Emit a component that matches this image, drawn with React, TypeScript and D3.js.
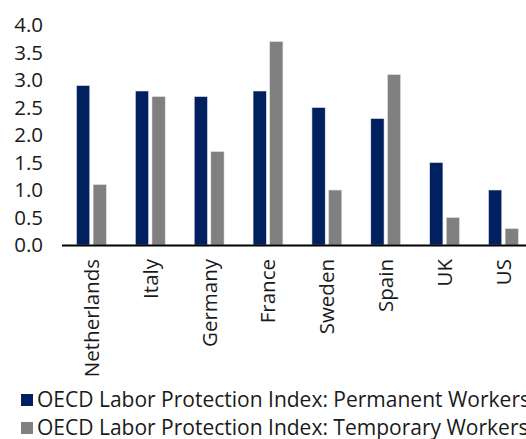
import React from "react";
import * as d3 from "d3";

const categories = ["Netherlands", "Italy", "Germany", "France", "Sweden", "Spain", "UK", "US"];
const permanent = [2.9, 2.8, 2.7, 2.8, 2.5, 2.3, 1.5, 1.0];
const temporary = [1.1, 2.7, 1.7, 3.7, 1.0, 3.1, 0.5, 0.3];
const seriesNames = [
  "OECD Labor Protection Index: Permanent Workers",
  "OECD Labor Protection Index: Temporary Workers",
];
const seriesColors = ["#002060", "#808080"];
const yTicks = [0, 0.5, 1, 1.5, 2, 2.5, 3, 3.5, 4];

const W = 526;
const H = 439;
const FONT = "'Open Sans', sans-serif";

export default function App() {
  const plotLeft = 62;
  const step = 58.86;
  const y = d3.scaleLinear().domain([0, 4]).range([245, 25]);
  const x = d3
    .scaleBand<string>()
    .domain(categories)
    .range([plotLeft, plotLeft + step * categories.length])
    .paddingInner(0)
    .paddingOuter(0);
  const sub = d3
    .scaleBand<string>()
    .domain(["p", "t"])
    .range([0, x.bandwidth()])
    .paddingInner(0.2)
    .paddingOuter(0.873);
  const values = [permanent, temporary];
  const keys = ["p", "t"];

  return (
    <svg
      width={W}
      height={H}
      style={{ position: "fixed", left: 0, top: 0, display: "block", background: "#fff" }}
      fontFamily={FONT}
    >
      {yTicks.map((t) => (
        <text
          key={t}
          x={43}
          y={y(t)}
          dy="0.36em"
          textAnchor="end"
          fontSize={20.5}
          fill="#1a1a1a"
        >
          {d3.format(".1f")(t)}
        </text>
      ))}
      {categories.map((c, i) =>
        values.map((vals, s) => (
          <rect
            key={c + s}
            x={(x(c) as number) + (sub(keys[s]) as number)}
            y={y(vals[i])}
            width={sub.bandwidth()}
            height={y(0) - y(vals[i])}
            fill={seriesColors[s]}
            stroke="#e8e8e8"
            strokeWidth={0.6}
          />
        ))
      )}
      <line x1={plotLeft} x2={W} y1={245.5} y2={245.5} stroke="#000" strokeWidth={2} />
      {categories.map((c) => {
        const cx = (x(c) as number) + x.bandwidth() / 2;
        return (
          <text
            key={c}
            transform={`translate(${cx},259) rotate(-90)`}
            textAnchor="end"
            dy="0.36em"
            fontSize={20.5}
            fill="#1a1a1a"
          >
            {c}
          </text>
        );
      })}
      {seriesNames.map((n, i) => (
        <g key={n} transform={`translate(21,${394 + i * 28})`}>
          <rect x={0} y={0} width={12} height={12} fill={seriesColors[i]} />
          <text x={16} y={12.5} fontSize={21} fill="#1a1a1a">
            {n}
          </text>
        </g>
      ))}
    </svg>
  );
}
